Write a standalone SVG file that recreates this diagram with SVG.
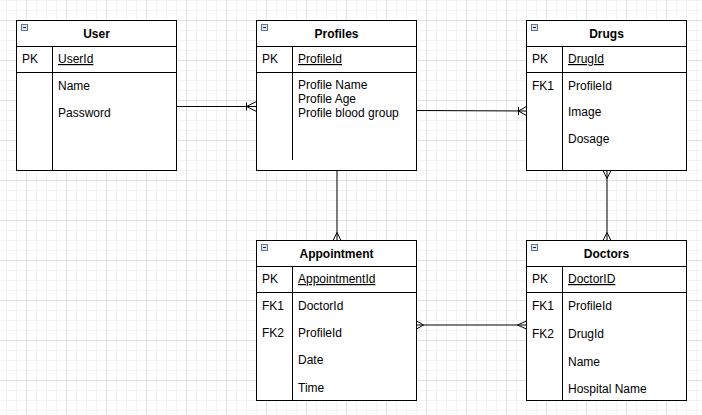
<svg xmlns="http://www.w3.org/2000/svg" width="702" height="415" viewBox="0 0 702 415">
<defs>
<pattern id="grid" x="26" y="20" width="40" height="40" patternUnits="userSpaceOnUse">
<rect x="10" y="0" width="1" height="40" fill="#f3f3f3"/>
<rect x="20" y="0" width="1" height="40" fill="#f3f3f3"/>
<rect x="30" y="0" width="1" height="40" fill="#f3f3f3"/>
<rect x="0" y="10" width="40" height="1" fill="#f3f3f3"/>
<rect x="0" y="20" width="40" height="1" fill="#f3f3f3"/>
<rect x="0" y="30" width="40" height="1" fill="#f3f3f3"/>
<rect x="0" y="0" width="1" height="40" fill="#e2e2e2"/>
<rect x="0" y="0" width="40" height="1" fill="#e2e2e2"/>
</pattern>
<g id="icon">
<rect x="0.5" y="0.5" width="6" height="6" fill="#dfe6f0" stroke="#5f7490" stroke-width="1"/>
<line x1="2" y1="3.5" x2="5" y2="3.5" stroke="#222" stroke-width="1"/>
</g>
</defs>
<style>
.box{fill:#fff;stroke:#000;stroke-width:1}
.ln{stroke:#000;stroke-width:1;fill:none}
.t{font-family:"Liberation Sans",Arial,Helvetica,sans-serif;font-size:12px;fill:#000}
.h{font-weight:bold;text-anchor:middle}
.u{text-decoration:underline}
.c{stroke:#000;stroke-width:1;fill:none}
</style>
<rect width="702" height="415" fill="#fff"/>
<rect width="702" height="415" fill="url(#grid)"/>

<g id="connectors">
<line class="c" x1="176.5" y1="106.5" x2="256.5" y2="106.5"/>
<path class="c" d="M246.5,102.5 V110.5 M246.5,106.5 L256.5,101.5 M246.5,106.5 L256.5,111.5"/>
<line class="c" x1="416.5" y1="110.5" x2="526.5" y2="111"/>
<path class="c" d="M518.5,107 V115 M518.5,111 L526.5,106.5 M518.5,111 L526.5,115.5"/>
<line class="c" x1="337" y1="170.5" x2="337" y2="240.5"/>
<path class="c" d="M337,232.5 L333,240.5 M337,232.5 L341,240.5"/>
<line class="c" x1="607" y1="170.5" x2="607" y2="240.5"/>
<path class="c" d="M607,178.5 L603,170.5 M607,178.5 L611,170.5 M607,232.5 L603,240.5 M607,232.5 L611,240.5"/>
<line class="c" x1="416.5" y1="325" x2="526.5" y2="325"/>
<path class="c" d="M423.5,325 L416.5,321 M423.5,325 L416.5,329 M517.5,325 L526.5,321 M517.5,325 L526.5,329"/>
</g>

<g id="user">
<rect class="box" x="16.5" y="20.5" width="160" height="150"/>
<line class="ln" x1="16.5" y1="46.5" x2="176.5" y2="46.5"/>
<line class="ln" x1="16.5" y1="72.5" x2="176.5" y2="72.5"/>
<line class="ln" x1="52.5" y1="46.5" x2="52.5" y2="170.5"/>
<use href="#icon" x="21" y="24"/>
<text class="t h" x="96.5" y="38">User</text>
<text class="t" x="22" y="63">PK</text>
<text class="t u" x="58" y="63">UserId</text>
<text class="t" x="58" y="90">Name</text>
<text class="t" x="58" y="117">Password</text>
</g>

<g id="profiles">
<rect class="box" x="256.5" y="20.5" width="160" height="150"/>
<line class="ln" x1="256.5" y1="46.5" x2="416.5" y2="46.5"/>
<line class="ln" x1="256.5" y1="72.5" x2="416.5" y2="72.5"/>
<line class="ln" x1="292.5" y1="46.5" x2="292.5" y2="160"/>
<use href="#icon" x="261" y="24"/>
<text class="t h" x="336.5" y="38">Profiles</text>
<text class="t" x="262" y="63">PK</text>
<text class="t u" x="298" y="63">ProfileId</text>
<text class="t" x="298" y="89">Profile Name</text>
<text class="t" x="298" y="103">Profile Age</text>
<text class="t" x="298" y="117">Profile blood group</text>
</g>

<g id="drugs">
<rect class="box" x="526.5" y="20.5" width="160" height="150"/>
<line class="ln" x1="526.5" y1="46.5" x2="686.5" y2="46.5"/>
<line class="ln" x1="526.5" y1="72.5" x2="686.5" y2="72.5"/>
<line class="ln" x1="562.5" y1="46.5" x2="562.5" y2="170.5"/>
<use href="#icon" x="531" y="24"/>
<text class="t h" x="606.5" y="38">Drugs</text>
<text class="t" x="532" y="63">PK</text>
<text class="t u" x="568" y="63">DrugId</text>
<text class="t" x="532" y="90">FK1</text>
<text class="t" x="568" y="90">ProfileId</text>
<text class="t" x="568" y="116">Image</text>
<text class="t" x="568" y="143">Dosage</text>
</g>

<g id="appointment">
<rect class="box" x="256.5" y="240.5" width="160" height="160"/>
<line class="ln" x1="256.5" y1="266.5" x2="416.5" y2="266.5"/>
<line class="ln" x1="256.5" y1="292.5" x2="416.5" y2="292.5"/>
<line class="ln" x1="292.5" y1="266.5" x2="292.5" y2="400.5"/>
<use href="#icon" x="261" y="244"/>
<text class="t h" x="336.5" y="258">Appointment</text>
<text class="t" x="262" y="283">PK</text>
<text class="t u" x="298" y="283">AppointmentId</text>
<text class="t" x="262" y="310">FK1</text>
<text class="t" x="298" y="310">DoctorId</text>
<text class="t" x="262" y="337">FK2</text>
<text class="t" x="298" y="337">ProfileId</text>
<text class="t" x="298" y="364">Date</text>
<text class="t" x="298" y="392">Time</text>
</g>

<g id="doctors">
<rect class="box" x="526.5" y="240.5" width="160" height="160"/>
<line class="ln" x1="526.5" y1="266.5" x2="686.5" y2="266.5"/>
<line class="ln" x1="526.5" y1="292.5" x2="686.5" y2="292.5"/>
<line class="ln" x1="562.5" y1="266.5" x2="562.5" y2="400.5"/>
<use href="#icon" x="531" y="244"/>
<text class="t h" x="606.5" y="258">Doctors</text>
<text class="t" x="532" y="283">PK</text>
<text class="t u" x="568" y="283">DoctorID</text>
<text class="t" x="532" y="310">FK1</text>
<text class="t" x="568" y="310">ProfileId</text>
<text class="t" x="532" y="338">FK2</text>
<text class="t" x="568" y="338">DrugId</text>
<text class="t" x="568" y="366">Name</text>
<text class="t" x="568" y="393">Hospital Name</text>
</g>
</svg>
